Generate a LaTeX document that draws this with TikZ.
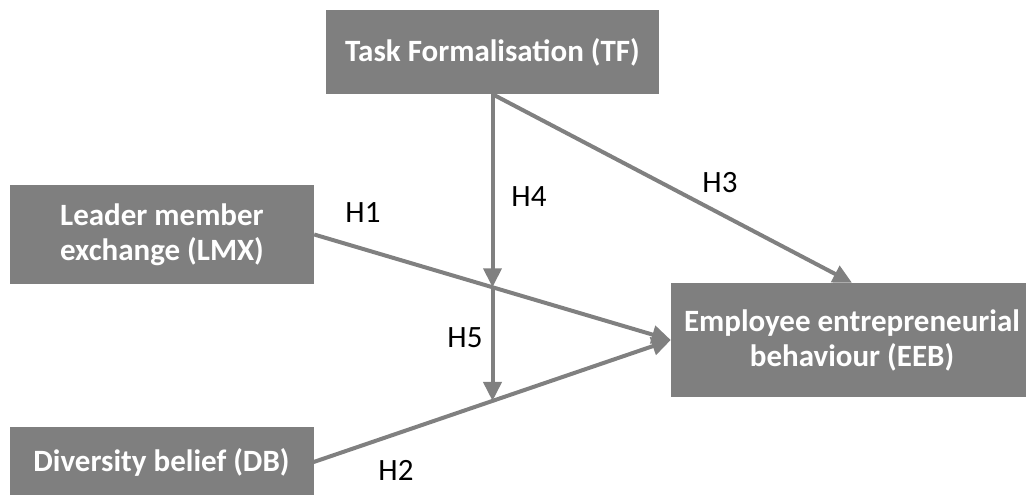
\documentclass[tikz,border=0pt]{standalone}
\usepackage{fontspec}
\setmainfont{Carlito}
\usetikzlibrary{arrows.meta,intersections}
\definecolor{boxgray}{HTML}{7F7F7F}
\definecolor{linegray}{HTML}{808080}
\tikzset{
  box/.style={fill=boxgray, draw=none, text=white, font=\fontsize{31}{35}\selectfont\bfseries, align=center, inner sep=0pt},
  conn/.style={draw=linegray, line width=4pt, -{Triangle[length=19pt,width=18pt]}},
  lab/.style={font=\fontsize{31}{35}\selectfont, text=black, inner sep=0pt}
}
\begin{document}
\begin{tikzpicture}[x=1pt,y=-1pt]
\useasboundingbox (0,0) rectangle (1026,495);
\node[box, minimum width=333pt, minimum height=84pt] (TF) at (492.5,52) {Task Formalisation (TF)};
\node[box, minimum width=304pt, minimum height=99pt] (LMX) at (162,234.5) {Leader member\\exchange (LMX)};
\node[box, minimum width=304pt, minimum height=70pt] (DB) at (161.5,462) {Diversity belief (DB)};
\node[box, minimum width=362pt, minimum height=114pt] (EEB) at (852,340) {Employee entrepreneurial\\behaviour (EEB)};
\coordinate (low) at (492.5,495);
\path[name path=vert] (TF.south) -- (low);
\path[name path=hone] (LMX.east) -- (EEB.west);
\path[name path=htwo] (DB.east) -- (EEB.west);
\path[name intersections={of=vert and hone, by=c1}];
\path[name intersections={of=vert and htwo, by=c2}];
\draw[conn] (LMX.east) -- (EEB.west);
\draw[conn] (DB.east) -- (EEB.west);
\draw[conn] (TF.south) -- (EEB.north);
\draw[conn] (TF.south) -- (c1);
\draw[conn] (c1) -- (c2);
\node[lab] (H1) at (363,213) {H1};
\node[lab] (H2) at (396,470) {H2};
\node[lab] (H3) at (720,183) {H3};
\node[lab] (H4) at (529,197) {H4};
\node[lab] (H5) at (465,338) {H5};
\end{tikzpicture}
\end{document}
